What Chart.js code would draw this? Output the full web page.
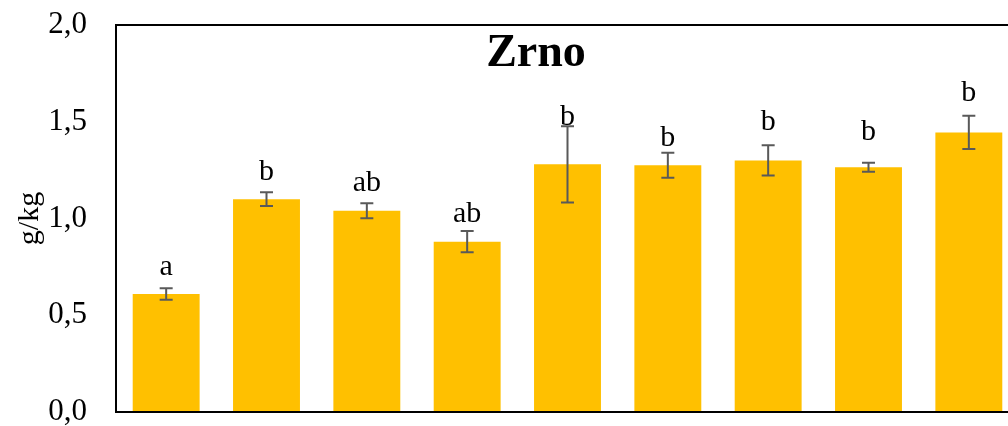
<!DOCTYPE html>
<html>
<head>
<meta charset="utf-8">
<script src="https://cdn.jsdelivr.net/npm/chart.js@4/dist/chart.umd.min.js"></script>
<style>
  html, body { margin: 0; padding: 0; background: #fff; overflow: hidden; }
  #wrap { width: 1024px; height: 426px; position: relative; }
</style>
</head>
<body>
<div id="wrap"><canvas id="c"></canvas></div>
<script>
// Grain content (g/kg) per treatment, with standard errors and significance letters
const categories = ['1', '2', '3', '4', '5', '6', '7', '8', '9'];
const means = [0.61, 1.10, 1.04, 0.88, 1.28, 1.275, 1.30, 1.265, 1.445];
const errors = [0.030, 0.036, 0.039, 0.055, 0.197, 0.065, 0.078, 0.023, 0.086];
const groupLetters = ['a', 'b', 'ab', 'ab', 'b', 'b', 'b', 'b', 'b'];
const letterLevels = [0.706, 1.199, 1.144, 0.982, 1.483, 1.376, 1.457, 1.406, 1.609];
const yTicks = [0, 0.5, 1.0, 1.5, 2.0];
const chartTitle = 'Zrno';
const yTitle = 'g/kg';

const SERIF = "'Liberation Serif', 'Times New Roman', serif";

// Plot frame, error bars, letters and the title drawn on top of the bars
const overlay = {
  id: 'overlay',
  afterDatasetsDraw(chart) {
    const { ctx, chartArea: a, scales: { x, y } } = chart;
    ctx.save();

    // error bars
    ctx.strokeStyle = '#595959';
    ctx.lineWidth = 2;
    means.forEach((m, i) => {
      const cx = x.getPixelForValue(i);
      const yHi = y.getPixelForValue(m + errors[i]);
      const yLo = y.getPixelForValue(m - errors[i]);
      ctx.beginPath();
      ctx.moveTo(cx, yHi); ctx.lineTo(cx, yLo);
      ctx.moveTo(cx - 6.5, yHi); ctx.lineTo(cx + 6.5, yHi);
      ctx.moveTo(cx - 6.5, yLo); ctx.lineTo(cx + 6.5, yLo);
      ctx.stroke();
    });

    // significance letters
    ctx.fillStyle = '#000';
    ctx.font = '30px ' + SERIF;
    ctx.textAlign = 'center';
    ctx.textBaseline = 'alphabetic';
    groupLetters.forEach((t, i) => {
      ctx.fillText(t, x.getPixelForValue(i), y.getPixelForValue(letterLevels[i]));
    });

    // frame
    ctx.strokeStyle = '#000';
    ctx.lineWidth = 2;
    ctx.strokeRect(a.left, a.top, a.right - a.left, a.bottom - a.top);

    // title inside the plot
    ctx.font = 'bold 46px ' + SERIF;
    ctx.fillText(chartTitle, a.left + 420, a.top + 41);

    ctx.restore();
  }
};

new Chart(document.getElementById('c'), {
  type: 'bar',
  data: {
    labels: categories,
    datasets: [{
      data: means,
      backgroundColor: '#FFC000',
      borderWidth: 0,
      barPercentage: 0.667,
      categoryPercentage: 1.0
    }]
  },
  options: {
    responsive: true,
    maintainAspectRatio: false,
    animation: false,
    devicePixelRatio: 1,
    layout: { padding: { left: 0, right: 5, top: 25, bottom: 14 } },
    plugins: { legend: { display: false }, tooltip: { enabled: false }, title: { display: false } },
    scales: {
      x: {
        grid: { display: false, drawTicks: false },
        border: { display: false },
        ticks: { display: false }
      },
      y: {
        min: 0,
        max: 2,
        afterBuildTicks(scale) { scale.ticks = yTicks.map(v => ({ value: v })); },
        afterFit(scale) { scale.width = 116; scale.paddingTop = 0; scale.paddingBottom = 0; },
        grid: { display: false, drawTicks: false },
        border: { display: false },
        ticks: {
          padding: 29,
          color: '#000',
          font: { family: SERIF, size: 31, lineHeight: 1.2 },
          callback: v => Number(v).toFixed(1).replace('.', ',')
        },
        title: {
          display: true,
          text: yTitle,
          color: '#000',
          padding: { top: 12, bottom: 0 },
          font: { family: SERIF, size: 30, lineHeight: 1.2 }
        }
      }
    }
  },
  plugins: [overlay]
});
</script>
</body>
</html>
